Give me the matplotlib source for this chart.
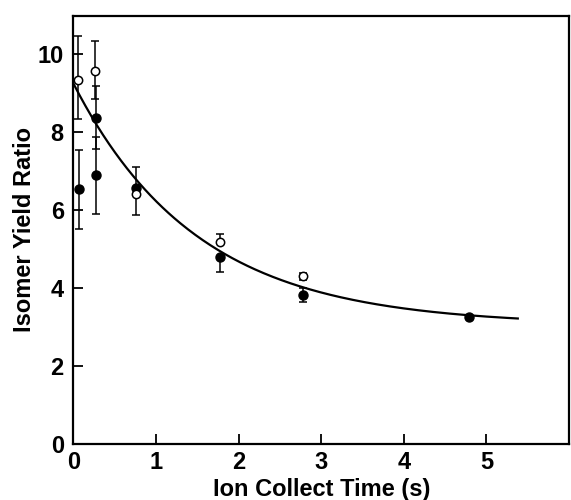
import numpy as np
import matplotlib
matplotlib.use("Agg")
import matplotlib.pyplot as plt

plt.rcParams['font.family'] = ['Liberation Sans', 'DejaVu Sans']
plt.rcParams['font.weight'] = 'bold'

# Open circles
open_x = [0.05, 0.26, 0.76, 1.78, 2.78]
open_y = [9.35, 9.58, 6.43, 5.18, 4.30]
open_err_lo = [1.01, 0.72, 0.55, 0.0, 0.10]
open_err_hi = [1.13, 0.77, 0.0, 0.20, 0.10]

# Filled circles
filled_x = [0.07, 0.27, 0.27, 0.76, 1.78, 2.78, 4.79]
filled_y = [6.54, 8.38, 6.90, 6.58, 4.79, 3.83, 3.25]
filled_err_lo = [1.02, 0.81, 1.00, 0.0, 0.37, 0.18, 0.05]
filled_err_hi = [1.01, 0.81, 0.99, 0.54, 0.0, 0.17, 0.05]

# Fitted decay curve parameters: y = A + B*exp(-t/tau)
fit_A = 3.05
fit_B = 6.2
fit_tau = 1.5
fit_tmax = 5.38

x_ticks = [0, 1, 2, 3, 4, 5]
y_ticks = [0, 2, 4, 6, 8, 10]

fig = plt.figure(figsize=(5.71, 5.0), dpi=100)
ax = fig.add_axes([0.1287, 0.112, 0.8678, 0.857])

t = np.linspace(0, fit_tmax, 300)
ax.plot(t, fit_A + fit_B * np.exp(-t / fit_tau), color='black', lw=1.6, zorder=2)

ax.errorbar(filled_x, filled_y, yerr=[filled_err_lo, filled_err_hi], fmt='o',
            color='black', mfc='black', mec='black', ms=6.5, elinewidth=1.1,
            capsize=2.6, capthick=1.1, zorder=3)
ax.errorbar(open_x, open_y, yerr=[open_err_lo, open_err_hi], fmt='o',
            color='black', mfc='white', mec='black', ms=6, mew=1.1,
            elinewidth=1.1, capsize=2.6, capthick=1.1, zorder=4)

ax.set_xlim(0, 6.0)
ax.set_ylim(0, 11.0)
ax.set_xticks(x_ticks)
ax.set_yticks(y_ticks)
ax.tick_params(direction='in', length=7, width=1.3, labelsize=17)
ax.tick_params(axis='y', pad=7)
ax.tick_params(axis='x', pad=5)
for lab in ax.get_xticklabels() + ax.get_yticklabels():
    lab.set_fontweight('bold')
for sp in ax.spines.values():
    sp.set_linewidth(1.6)

ax.set_xlabel('Ion Collect Time (s)', fontsize=17, fontweight='bold', labelpad=3)
ax.set_ylabel('Isomer Yield Ratio', fontsize=17, fontweight='bold', labelpad=1)

fig.savefig('out.png', dpi=100)
